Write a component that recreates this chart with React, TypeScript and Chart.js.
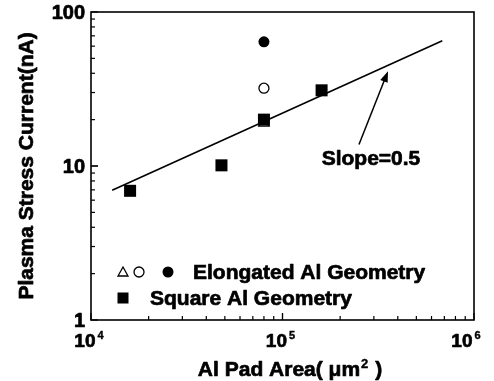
import React, { useEffect, useRef } from "react";
import { Chart, registerables } from "chart.js";

Chart.register(...registerables);

// ---- data ----
const squareX = [16000, 48000, 80000, 160000];
const squareY = [6.9, 10.1, 20, 31];
const triangleX = [80000];
const triangleY = [19];
const openCircleX = [80000];
const openCircleY = [32];
const filledCircleX = [80000];
const filledCircleY = [64];
const fitX = [12900, 683000];
const fitY = [6.96, 65];

const xTickExponents = [4, 5, 6];
const yTickLabels = ["1", "10", "100"];
const yTickValues = [1, 10, 100];

const xTitle = "Al Pad Area( μm";
const xTitleSup = "2";
const xTitleEnd = " )";
const yTitle = "Plasma Stress Current(nA)";
const slopeLabel = "Slope=0.5";
const arrowFrom = { x: 250800, y: 13.8 };
const arrowTo = { x: 355600, y: 41.3 };
const slopeLabelPos = { x: 289700, y: 11.0 };
const legendElongated = "Elongated Al Geometry";
const legendSquare = "Square Al Geometry";

const FONT = "'Liberation Sans', Arial, Helvetica, sans-serif";

const toPts = (xs: number[], ys: number[]) => xs.map((x, i) => ({ x, y: ys[i] }));

function heavyText(ctx: CanvasRenderingContext2D, t: string, x: number, y: number, sw = 0.7) {
  ctx.fillText(t, x, y);
  ctx.save();
  ctx.lineWidth = sw;
  ctx.lineJoin = "round";
  ctx.strokeText(t, x, y);
  ctx.restore();
}

const decorPlugin = {
  id: "decor",
  afterDraw(chart: any) {
    const ctx: CanvasRenderingContext2D = chart.ctx;
    const { left, right, top, bottom } = chart.chartArea;
    const xs = chart.scales.x;
    const ys = chart.scales.y;
    ctx.save();
    ctx.strokeStyle = "#000";
    ctx.fillStyle = "#000";
    ctx.lineWidth = 1.6;
    // frame
    ctx.strokeRect(left, top, right - left, bottom - top);

    // ticks
    ctx.lineWidth = 1.2;
    for (let e = 0; e < 2; e++) {
      for (let m = 1; m <= 10; m++) {
        const v = m * Math.pow(10, e);
        const py = ys.getPixelForValue(v);
        const len = m === 1 || m === 10 ? 7 : 4;
        ctx.beginPath();
        ctx.moveTo(left, py);
        ctx.lineTo(left + len, py);
        ctx.stroke();
      }
    }
    for (let e = 4; e < 6; e++) {
      for (let m = 1; m <= 10; m++) {
        const v = m * Math.pow(10, e);
        const px = xs.getPixelForValue(v);
        const len = m === 1 || m === 10 ? 7 : 4;
        ctx.beginPath();
        ctx.moveTo(px, bottom);
        ctx.lineTo(px, bottom - len);
        ctx.stroke();
      }
    }

    // y tick labels
    ctx.font = `bold 20px ${FONT}`;
    ctx.textAlign = "right";
    ctx.textBaseline = "middle";
    yTickValues.forEach((v, i) => {
      heavyText(ctx, yTickLabels[i], left - 6, ys.getPixelForValue(v) + 1);
    });

    // x tick labels (10 with superscript exponent)
    xTickExponents.forEach((ex, i) => {
      const px = xs.getPixelForValue(Math.pow(10, ex));
      ctx.font = `bold 19px ${FONT}`;
      const w10 = ctx.measureText("10").width;
      ctx.font = `bold 11px ${FONT}`;
      const wE = ctx.measureText(String(ex)).width;
      let start = px - (w10 + 2 + wE) / 2 - 2;
      if (i === xTickExponents.length - 1) start = px - (w10 + 2 + wE) / 2 - 8;
      ctx.textAlign = "left";
      ctx.textBaseline = "alphabetic";
      ctx.font = `bold 19px ${FONT}`;
      heavyText(ctx, "10", start, bottom + 27);
      ctx.font = `bold 11px ${FONT}`;
      heavyText(ctx, String(ex), start + w10 + 2, bottom + 19, 0.4);
    });

    // x title
    ctx.font = `bold 21px ${FONT}`;
    const w1 = ctx.measureText(xTitle).width;
    ctx.font = `bold 13px ${FONT}`;
    const w2 = ctx.measureText(xTitleSup).width;
    ctx.font = `bold 21px ${FONT}`;
    const w3 = ctx.measureText(xTitleEnd).width;
    const total = w1 + w2 + w3;
    const sx = 289 - total / 2;
    const by = 376;
    ctx.textAlign = "left";
    ctx.textBaseline = "alphabetic";
    heavyText(ctx, xTitle, sx, by);
    ctx.font = `bold 13px ${FONT}`;
    heavyText(ctx, xTitleSup, sx + w1 + 1, by - 8, 0.4);
    ctx.font = `bold 21px ${FONT}`;
    heavyText(ctx, xTitleEnd, sx + w1 + w2 + 2, by);

    // y title
    ctx.save();
    ctx.translate(27, 166);
    ctx.rotate(-Math.PI / 2);
    ctx.font = `bold 21px ${FONT}`;
    ctx.textAlign = "center";
    ctx.textBaseline = "middle";
    heavyText(ctx, yTitle, 0, 0);
    ctx.restore();

    // arrow
    const ax0 = xs.getPixelForValue(arrowFrom.x);
    const ay0 = ys.getPixelForValue(arrowFrom.y);
    const ax1 = xs.getPixelForValue(arrowTo.x);
    const ay1 = ys.getPixelForValue(arrowTo.y);
    const ang = Math.atan2(ay1 - ay0, ax1 - ax0);
    const hl = 11, hw = 4;
    ctx.lineWidth = 1.5;
    ctx.beginPath();
    ctx.moveTo(ax0, ay0);
    ctx.lineTo(ax1 - Math.cos(ang) * hl * 0.8, ay1 - Math.sin(ang) * hl * 0.8);
    ctx.stroke();
    ctx.beginPath();
    ctx.moveTo(ax1, ay1);
    ctx.lineTo(ax1 - Math.cos(ang) * hl - Math.sin(ang) * hw, ay1 - Math.sin(ang) * hl + Math.cos(ang) * hw);
    ctx.lineTo(ax1 - Math.cos(ang) * hl + Math.sin(ang) * hw, ay1 - Math.sin(ang) * hl - Math.cos(ang) * hw);
    ctx.closePath();
    ctx.fill();

    // slope label
    ctx.font = `bold 21px ${FONT}`;
    ctx.textAlign = "center";
    ctx.textBaseline = "middle";
    heavyText(ctx, slopeLabel, xs.getPixelForValue(slopeLabelPos.x), ys.getPixelForValue(slopeLabelPos.y));

    // legend
    const r1 = 272, r2 = 298;
    const lx = left + 32;
    ctx.lineWidth = 1.3;
    // triangle
    ctx.beginPath();
    ctx.moveTo(lx, r1 - 5);
    ctx.lineTo(lx + 5, r1 + 4);
    ctx.lineTo(lx - 5, r1 + 4);
    ctx.closePath();
    ctx.stroke();
    // open circle
    ctx.beginPath();
    ctx.arc(lx + 16, r1, 5, 0, Math.PI * 2);
    ctx.stroke();
    // filled circle
    ctx.beginPath();
    ctx.arc(lx + 45, r1, 5.5, 0, Math.PI * 2);
    ctx.fill();
    // square
    ctx.fillRect(lx - 5.5, r2 - 5.5, 11, 11);
    ctx.font = `bold 21px ${FONT}`;
    ctx.textAlign = "left";
    ctx.textBaseline = "middle";
    heavyText(ctx, legendElongated, lx + 70, r1 + 1);
    heavyText(ctx, legendSquare, lx + 27, r2 + 1);

    ctx.restore();
  },
};

export default function App() {
  const ref = useRef<HTMLCanvasElement | null>(null);
  useEffect(() => {
    if (!ref.current) return;
    const chart = new Chart(ref.current, {
      type: "scatter",
      data: {
        datasets: [
          {
            label: "fit",
            data: toPts(fitX, fitY),
            showLine: true,
            borderColor: "#000",
            borderWidth: 1.6,
            pointRadius: 0,
            order: 5,
          } as any,
          {
            label: "Square Al Geometry",
            data: toPts(squareX, squareY),
            pointStyle: "rect",
            pointRadius: 8.5,
            backgroundColor: "#000",
            borderColor: "#000",
            borderWidth: 0,
            order: 1,
          },
          {
            label: "Elongated triangle",
            data: toPts(triangleX, triangleY),
            pointStyle: "triangle",
            pointRadius: 6,
            backgroundColor: "#fff",
            borderColor: "#000",
            borderWidth: 1.3,
            order: 3,
          },
          {
            label: "Elongated open circle",
            data: toPts(openCircleX, openCircleY),
            pointStyle: "circle",
            pointRadius: 5,
            backgroundColor: "#fff",
            borderColor: "#000",
            borderWidth: 1.3,
            order: 2,
          },
          {
            label: "Elongated filled circle",
            data: toPts(filledCircleX, filledCircleY),
            pointStyle: "circle",
            pointRadius: 5.5,
            backgroundColor: "#000",
            borderColor: "#000",
            borderWidth: 0,
            order: 2,
          },
        ],
      },
      options: {
        responsive: false,
        animation: false,
        layout: { padding: { left: 91, right: 20, top: 12, bottom: 61 } },
        plugins: { legend: { display: false }, tooltip: { enabled: false } },
        scales: {
          x: {
            type: "logarithmic",
            min: 10000,
            max: 1000000,
            ticks: { display: false },
            grid: { display: false, drawTicks: false },
            border: { display: false },
          },
          y: {
            type: "logarithmic",
            min: 1,
            max: 100,
            ticks: { display: false },
            grid: { display: false, drawTicks: false },
            border: { display: false },
          },
        },
      },
      plugins: [decorPlugin],
    });
    return () => chart.destroy();
  }, []);
  return (
    <div style={{ position: "absolute", left: 0, top: 0, width: 494, height: 381, background: "#fff" }}>
      <canvas ref={ref} width={494} height={381} style={{ width: 494, height: 381 }} />
    </div>
  );
}
